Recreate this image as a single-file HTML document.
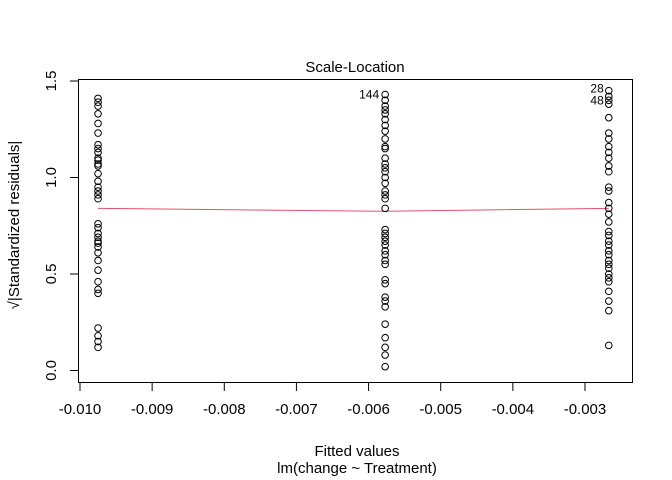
<!DOCTYPE html>
<html><head><meta charset="utf-8"><style>
body{margin:0;background:#fff}
svg{display:block;font-family:"Liberation Sans",Arial,sans-serif}
</style></head><body>
<svg id="chart" width="672" height="480">
<rect width="672" height="480" fill="#fff"/>
<text x="355" y="72" font-size="15" text-anchor="middle">Scale-Location</text>
<rect x="78.5" y="79.5" width="554" height="303" fill="none" stroke="#000"/>
<g id="axes"></g>
<g id="line"></g>
<g id="points"></g>
<text x="357" y="456" font-size="15" text-anchor="middle">Fitted values</text>
<text x="357" y="473" font-size="15" text-anchor="middle">lm(change ~ Treatment)</text>
<text transform="translate(19,225) rotate(-90)" font-size="15" text-anchor="middle">√|Standardized residuals|</text>
</svg>
<script>
const fitted = [-0.00975, -0.00577, -0.00267];
const group1 = [1.41,1.39,1.37,1.33,1.28,1.23,1.17,1.15,1.13,1.10,1.09,1.07,1.06,1.02,0.98,0.95,0.93,0.91,0.89,0.76,0.74,0.71,0.69,0.67,0.66,0.64,0.61,0.57,0.52,0.46,0.42,0.40,0.22,0.18,0.15,0.12];
const group2 = [1.43,1.40,1.37,1.35,1.33,1.30,1.27,1.24,1.20,1.16,1.15,1.10,1.07,1.05,1.03,1.00,0.97,0.93,0.91,0.89,0.84,0.73,0.71,0.69,0.67,0.65,0.62,0.60,0.57,0.55,0.47,0.45,0.38,0.36,0.33,0.24,0.17,0.12,0.08,0.02];
const group3 = [1.45,1.42,1.40,1.38,1.31,1.23,1.20,1.16,1.13,1.10,1.06,1.03,0.95,0.93,0.87,0.84,0.81,0.77,0.72,0.70,0.67,0.65,0.62,0.60,0.57,0.55,0.53,0.50,0.48,0.46,0.41,0.36,0.31,0.13];
const smoothX = [-0.00975, -0.00577, -0.00267];
const smoothY = [0.84, 0.825, 0.84];
const xTicks = [-0.010,-0.009,-0.008,-0.007,-0.006,-0.005,-0.004,-0.003];
const xTickLabels = ["-0.010","-0.009","-0.008","-0.007","-0.006","-0.005","-0.004","-0.003"];
const yTicks = [0,0.5,1.0,1.5];
const yTickLabels = ["0.0","0.5","1.0","1.5"];
const labels = [{g:1,v:1.43,t:"144",dx:-6,dy:4},{g:2,v:1.45,t:"28",dx:-5,dy:2},{g:2,v:1.40,t:"48",dx:-5,dy:4}];

const NS="http://www.w3.org/2000/svg";
const X = v => 80 + (v + 0.010) * 72140;
const Y = v => 370.5 - v * 193;
function mk(tag, attrs, parent){const e=document.createElementNS(NS,tag);for(const k in attrs)e.setAttribute(k,attrs[k]);parent.appendChild(e);return e;}
const axes=document.getElementById('axes');
xTicks.forEach((t,i)=>{
  const l=mk('line',{x1:X(t),x2:X(t),y1:383,y2:391,stroke:'#000'},axes);
  
  
  const tx=mk('text',{x:X(t),y:414,'font-size':15,'text-anchor':'middle'},axes);
  tx.textContent=xTickLabels[i];
  
  
});
yTicks.forEach((t,i)=>{
  const l=mk('line',{x1:70,x2:78,y1:Y(t),y2:Y(t),stroke:'#000'},axes);
  
  
  const tx=mk('text',{transform:`translate(56,${Y(t)}) rotate(-90)`,'font-size':15,'text-anchor':'middle'},axes);
  tx.textContent=yTickLabels[i];
  
  
});
const pl=mk('polyline',{points:smoothX.map((x,i)=>X(x)+','+Y(smoothY[i])).join(' '),fill:'none',stroke:'#DF536B','stroke-width':1},document.getElementById('line'));


const pts=document.getElementById('points');
[group1,group2,group3].forEach((g,gi)=>{
  g.forEach(v=>{
    const c=mk('circle',{cx:X(fitted[gi]),cy:Y(v),r:3.3,fill:'none',stroke:'#000','stroke-width':1},pts);
    
    
  });
});
labels.forEach(o=>{
  const tx=mk('text',{x:X(fitted[o.g])+o.dx,y:Y(o.v)+o.dy,'font-size':12,'text-anchor':'end'},pts);
  tx.textContent=o.t;
  
  
});
</script>
</body></html>
